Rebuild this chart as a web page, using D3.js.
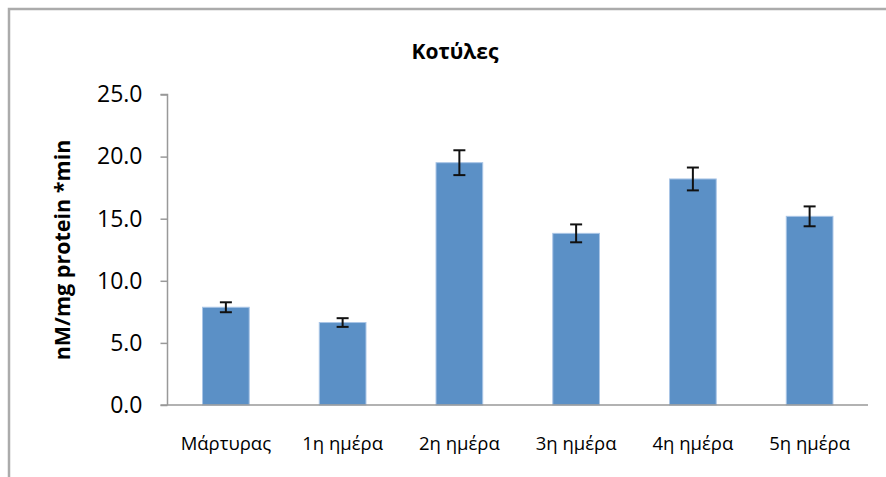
<!DOCTYPE html>
<html>
<head>
<meta charset="utf-8">
<script src="https://cdn.jsdelivr.net/npm/d3@7"></script>
<style>
  html, body { margin: 0; padding: 0; background: #fff; }
  svg { display: block; font-family: "Open Sans", "Noto Sans", sans-serif; }
</style>
</head>
<body>
<svg id="chart" width="886" height="477"></svg>
<script>
const title = "Κοτύλες";
const yTitle = "nM/mg protein *min";
const categories = ["Μάρτυρας", "1η ημέρα", "2η ημέρα", "3η ημέρα", "4η ημέρα", "5η ημέρα"];
const values = [7.87, 6.64, 19.51, 13.82, 18.2, 15.19];
const errors = [0.40, 0.35, 1.00, 0.72, 0.92, 0.80];
const yTicks = [0, 5, 10, 15, 20, 25];

const svg = d3.select("#chart");

// outer frame (left and top edges visible)
svg.append("path")
  .attr("d", "M9,477 L9,9 L886,9")
  .attr("fill", "none")
  .attr("stroke", "#ababab")
  .attr("stroke-width", 2.5);

const x = d3.scaleBand().domain(categories).range([167.5, 868]).paddingInner(0.6).paddingOuter(0.3);
const y = d3.scaleLinear().domain([0, 25]).range([405, 94.5]);

// title
svg.append("text")
  .attr("x", 455).attr("y", 59)
  .attr("text-anchor", "middle")
  .attr("font-size", 21).attr("font-weight", "bold").attr("fill", "#000")
  .text(title);

// y axis
const yAxis = svg.append("g")
  .attr("transform", "translate(167.5,0)")
  .call(d3.axisLeft(y).tickValues(yTicks).tickFormat(d3.format(".1f")).tickSize(7).tickPadding(18));
yAxis.selectAll("path, line").attr("stroke", "#999").attr("stroke-width", 1.5);
yAxis.select(".domain").attr("d", `M-7,${y(25)}H0V${y(0)}`);
yAxis.selectAll("text").attr("font-size", 23).attr("fill", "#000").attr("font-family", "Open Sans, Noto Sans, sans-serif");

// bars
svg.append("g").selectAll("rect")
  .data(categories)
  .join("rect")
  .attr("x", d => x(d))
  .attr("width", x.bandwidth())
  .attr("y", (d, i) => y(values[i]))
  .attr("height", (d, i) => y(0) - y(values[i]))
  .attr("fill", "#5b90c6")
  .attr("stroke", "#a9c5e6")
  .attr("stroke-width", 1);

// x axis line
svg.append("line")
  .attr("x1", 160.5).attr("x2", 868)
  .attr("y1", y(0)).attr("y2", y(0))
  .attr("stroke", "#999").attr("stroke-width", 1.5);

// x labels
svg.append("g").selectAll("text")
  .data(categories)
  .join("text")
  .attr("x", d => x(d) + x.bandwidth() / 2)
  .attr("y", 450)
  .attr("text-anchor", "middle")
  .attr("font-size", 18.5)
  .attr("fill", "#000")
  .text(d => d);

// error bars
const eb = svg.append("g").attr("stroke", "#111").attr("stroke-width", 2).attr("fill", "none");
categories.forEach((c, i) => {
  const cx = x(c) + x.bandwidth() / 2;
  const top = y(values[i] + errors[i]);
  const bot = y(values[i] - errors[i]);
  eb.append("line").attr("x1", cx).attr("x2", cx).attr("y1", top).attr("y2", bot);
  eb.append("line").attr("x1", cx - 6).attr("x2", cx + 6).attr("y1", top).attr("y2", top);
  eb.append("line").attr("x1", cx - 6).attr("x2", cx + 6).attr("y1", bot).attr("y2", bot);
});

// y axis title
svg.append("text")
  .attr("transform", "translate(70,250) rotate(-90)")
  .attr("text-anchor", "middle")
  .attr("font-size", 21.5).attr("font-weight", "bold").attr("fill", "#000")
  .text(yTitle);
</script>
</body>
</html>
